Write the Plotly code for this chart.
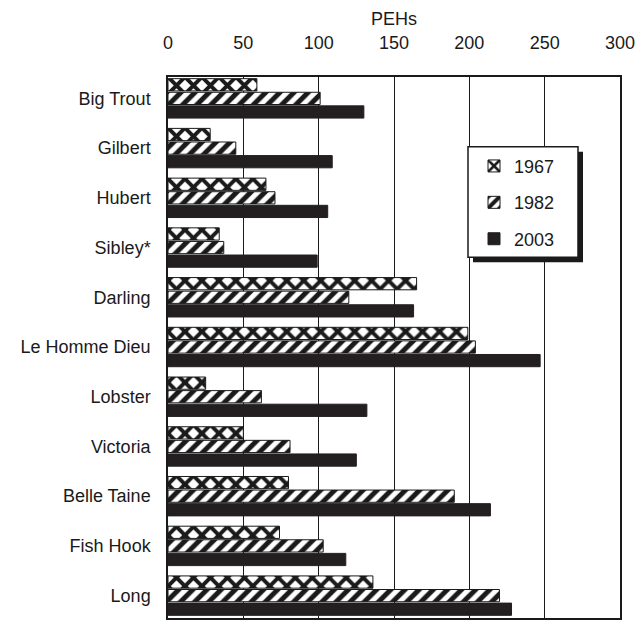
import plotly.graph_objects as go

lakes = ["Big Trout", "Gilbert", "Hubert", "Sibley*", "Darling", "Le Homme Dieu",
         "Lobster", "Victoria", "Belle Taine", "Fish Hook", "Long"]
v1967 = [59, 28, 65, 34, 165, 199, 25, 50, 80, 74, 136]
v1982 = [101, 45, 71, 37, 120, 204, 62, 81, 190, 103, 220]
v2003 = [130, 109, 106, 99, 163, 247, 132, 125, 214, 118, 228]
series_names = ["1967", "1982", "2003"]
x_ticks = [0, 50, 100, 150, 200, 250, 300]

FONT = "Liberation Sans, Arial, sans-serif"
INK = "#1a1a1a"

FW, FH = 638, 622

fig = go.Figure()
fig.add_trace(go.Bar(
    y=lakes, x=v1967, orientation="h", name=series_names[0], legendgroup="a",
    marker=dict(color="white", line=dict(color=INK, width=1),
                pattern=dict(shape="x", fgcolor=INK, bgcolor="white", size=12,
                             solidity=0.55, fillmode="replace")),
))
fig.add_trace(go.Bar(
    y=lakes, x=v1982, orientation="h", name=series_names[1], legendgroup="b",
    marker=dict(color="white", line=dict(color=INK, width=1),
                pattern=dict(shape="/", fgcolor=INK, bgcolor="white", size=10,
                             solidity=0.5, fillmode="replace")),
))
fig.add_trace(go.Bar(
    y=lakes, x=v2003, orientation="h", name=series_names[2], legendgroup="c",
    marker=dict(color="#231f20", line=dict(color="#231f20", width=1)),
))

L, R, T, B = 168, 620, 77, 620
W, H = R - L, B - T
def px(x):
    return (x - L) / W
def py(y):
    return (B - y) / H

shapes = [
    dict(type="rect", xref="paper", yref="paper", layer="above",
         x0=px(473), x1=px(583), y0=py(263), y1=py(152),
         fillcolor=INK, line=dict(width=0)),
    dict(type="rect", xref="paper", yref="paper", layer="above",
         x0=px(468), x1=px(578), y0=py(258), y1=py(147),
         fillcolor="white", line=dict(color=INK, width=1.5)),
]

fig.update_layout(
    width=FW, height=FH,
    margin=dict(l=L, r=FW - R, t=T, b=FH - B),
    paper_bgcolor="white", plot_bgcolor="white",
    font=dict(family=FONT, size=18, color=INK),
    barmode="group", bargap=0.18, bargroupgap=0.1,
    showlegend=True,
    legend=dict(x=px(474), y=py(148), xanchor="left", yanchor="top",
                bgcolor="rgba(0,0,0,0)", borderwidth=0,
                traceorder="grouped", tracegroupgap=10,
                font=dict(family=FONT, size=18, color=INK)),
    shapes=shapes,
)
fig.update_xaxes(
    side="top", range=[0, 300], tickvals=x_ticks, ticktext=[str(t) for t in x_ticks],
    showgrid=True, gridcolor=INK, gridwidth=1, zeroline=False,
    showline=True, linecolor=INK, linewidth=1.5, mirror=True,
    ticks="", ticklabelstandoff=19,
    title=dict(text="PEHs", standoff=3, font=dict(family=FONT, size=18, color=INK)),
    tickfont=dict(family=FONT, size=18, color=INK),
)
fig.update_yaxes(
    type="category", categoryorder="array", categoryarray=lakes,
    range=[10.45, -0.43], showgrid=False, zeroline=False,
    showline=True, linecolor=INK, linewidth=1.5, mirror=True,
    ticks="", ticklabelstandoff=12,
    tickfont=dict(family=FONT, size=18, color=INK),
)

fig.write_html("out.html", config={"displayModeBar": False},
               post_script="document.body.style.margin='0';document.body.style.overflow='hidden';")
